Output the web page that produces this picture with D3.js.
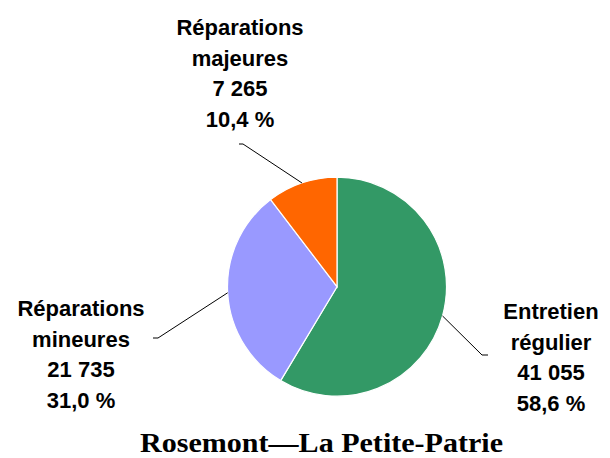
<!DOCTYPE html>
<html>
<head>
<meta charset="utf-8">
<script src="https://cdn.jsdelivr.net/npm/d3@7"></script>
<style>
  body { margin: 0; background: #fff; }
  svg { display: block; }
</style>
</head>
<body>
<svg id="chart" width="610" height="458"></svg>
<script>
var CATEGORIES = ["Entretien régulier", "Réparations mineures", "Réparations majeures"]
var LABEL_LINES = [["Entretien", "régulier"], ["Réparations", "mineures"], ["Réparations", "majeures"]]
var VALUES = [41055, 21735, 7265]
var PERCENTS = ["58,6 %", "31,0 %", "10,4 %"]
var VALUE_LABELS = ["41 055", "21 735", "7 265"]
var COLORS = ["#339966", "#9999FF", "#FF6600"]
var TITLE = "Rosemont\u2014La Petite-Patrie"

var CX = 337, CY = 286.7, R = 109.5
var LINE_H = 30.5

// label block: centre x, first baseline, elbow of the leader line (x, y), end of the tick
var LABEL_POS = [
  {x: 551, y: 319, ex: 482, ey: 355, tx: 488},
  {x: 81, y: 316, ex: 158, ey: 338, tx: 153},
  {x: 240, y: 35, ex: 243, ey: 144, tx: 239}
]

var svg = d3.select("#chart")

var pie = d3.pie().sort(null).value(function(d) { return d })
var arcs = pie(VALUES)
var arc = d3.arc().innerRadius(0).outerRadius(R)

var g = svg.append("g").attr("transform", "translate(" + CX + "," + CY + ")")

g.selectAll("path")
  .data(arcs)
  .enter().append("path")
  .attr("d", arc)
  .style("fill", function(d, i) { return COLORS[i] })
  .style("stroke", "#fff")
  .style("stroke-width", 1.2)

// leader lines
arcs.forEach(function(d, i) {
  var a = (d.startAngle + d.endAngle) / 2
  var px = CX + R * Math.sin(a)
  var py = CY - R * Math.cos(a)
  var p = LABEL_POS[i]
  svg.append("polyline")
    .attr("points", [[px, py], [p.ex, p.ey], [p.tx, p.ey]].map(function(q) { return q.join(",") }).join(" "))
    .style("fill", "none")
    .style("stroke", "#000")
    .style("stroke-width", 1)
})

// labels
CATEGORIES.forEach(function(c, i) {
  var p = LABEL_POS[i]
  var lines = LABEL_LINES[i].concat([VALUE_LABELS[i], PERCENTS[i]])
  var t = svg.append("text")
    .attr("text-anchor", "middle")
    .style("font-family", "Arial, 'Liberation Sans', sans-serif")
    .style("font-weight", "bold")
    .style("font-size", "22px")
    .style("fill", "#000")
  lines.forEach(function(l, j) {
    t.append("tspan")
      .attr("x", p.x)
      .attr("y", p.y + j * LINE_H)
      .text(l)
  })
})

svg.append("text")
  .attr("x", 140)
  .attr("y", 452)
  .attr("textLength", 363)
  .attr("lengthAdjust", "spacingAndGlyphs")
  .style("font-family", "'Times New Roman', 'Liberation Serif', serif")
  .style("font-weight", "bold")
  .style("font-size", "28px")
  .text(TITLE)
</script>
</body>
</html>
